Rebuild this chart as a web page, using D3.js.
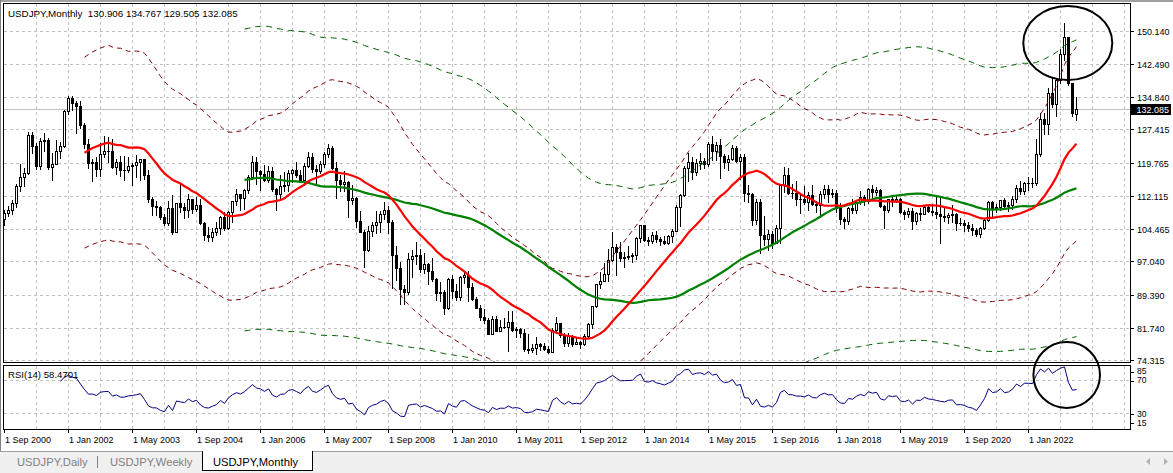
<!DOCTYPE html>
<html><head><meta charset="utf-8">
<script src="https://cdn.jsdelivr.net/npm/d3@7"></script>
<style>
html,body{margin:0;padding:0;background:#fff;overflow:hidden}
svg{display:block;font-family:"Liberation Sans",Arial,sans-serif}
text{white-space:pre}
</style></head><body>
<svg id="c" width="1173" height="473"></svg>
<script>
// ---- DATA (USDJPY monthly, Sep 2000 .. Jan 2023) ----
const opens = [
106.7,108.2,108.9,110.4,
114.4,116.4,117.3,126.1,123.6,119.0,124.7,125.0,118.8,119.4,122.4,123.5,
131.6,134.7,133.4,132.7,128.5,124.0,119.6,119.8,118.4,121.8,122.5,122.5,
118.8,119.9,118.0,118.1,119.0,119.3,119.8,120.5,116.8,111.5,109.8,109.6,
107.2,105.8,109.2,103.9,110.4,109.5,108.8,111.4,109.1,110.1,105.8,103.1,
102.6,103.7,104.6,107.2,104.8,108.5,110.9,112.5,111.6,113.4,116.4,119.8,
117.8,117.2,115.8,117.8,113.8,112.5,114.4,114.7,117.3,118.0,116.9,115.8,
119.0,121.0,118.4,117.8,119.5,121.7,123.2,118.6,115.8,114.8,115.4,111.2,
111.7,106.4,103.8,99.7,104.0,105.5,106.2,107.9,108.8,106.0,98.4,95.5,
90.6,89.9,97.6,98.3,98.6,95.3,96.4,94.7,93.0,89.8,90.0,86.2,
93.0,90.2,88.9,93.4,94.0,91.2,88.4,86.4,84.2,83.5,80.4,83.7,
81.1,82.0,81.8,83.1,81.2,81.5,80.5,76.8,76.6,77.0,78.1,77.6,
76.9,76.2,81.2,82.8,80.0,78.3,79.8,78.1,78.4,77.9,79.8,82.5,
86.7,91.7,92.6,94.2,97.4,100.4,99.1,97.9,98.1,98.2,98.4,102.4,
105.3,102.0,101.8,103.2,102.2,101.8,101.3,102.8,104.1,109.6,112.3,118.6,
119.8,117.5,119.6,120.1,119.4,124.1,122.5,123.9,121.2,119.9,120.6,123.1,
120.2,121.1,112.7,112.6,106.5,110.7,103.2,102.1,103.4,101.3,104.8,114.5,
116.9,112.8,112.7,111.4,111.5,110.8,112.4,110.3,110.0,112.5,113.6,112.5,
112.7,109.2,106.7,106.3,109.3,108.8,110.7,111.9,111.0,113.7,112.9,113.5,
109.7,108.9,111.4,110.9,111.4,108.3,107.9,108.7,106.3,108.1,108.0,109.5,
108.6,108.4,107.9,107.5,107.2,107.8,107.9,105.8,105.9,105.5,104.7,104.3,
103.3,104.7,106.6,110.7,109.3,109.6,111.1,109.7,110.0,111.3,114.0,113.2,
115.1,115.1,115.0,121.7,129.8,128.7,135.7,133.3,138.9,144.7,148.7,138.1,
130.906];
const highs = [
108.8,109.8,111.2,114.8,
119.4,118.5,126.8,126.8,124.2,125.5,126.6,125.5,122.0,125.0,124.4,131.8,
135.2,135.1,134.0,133.9,129.0,125.1,120.5,121.0,124.3,126.0,125.6,125.3,
120.7,121.2,121.3,121.1,119.6,121.6,120.6,120.6,118.0,111.8,110.9,109.8,
107.9,111.0,112.2,110.5,114.9,110.4,112.5,111.5,111.8,111.5,106.2,105.0,
104.6,106.0,107.5,108.3,108.6,111.0,113.7,112.6,113.7,116.8,121.4,121.0,
118.0,119.2,119.0,118.7,114.0,116.8,117.7,118.0,118.3,119.9,118.0,119.6,
122.2,122.0,119.2,120.1,122.3,124.1,123.6,119.8,116.9,117.9,115.5,114.7,
111.9,108.6,104.3,105.1,106.0,108.6,108.6,110.7,109.7,106.5,100.5,96.8,
91.6,98.9,99.7,101.4,99.8,98.9,96.7,97.8,93.3,92.2,90.5,93.1,
93.8,91.9,93.7,94.8,94.9,92.1,88.9,86.9,86.0,83.9,84.4,84.5,
83.6,84.0,85.5,85.5,82.0,81.6,81.4,80.3,77.9,79.5,78.3,78.3,
77.5,81.7,84.2,82.9,80.6,80.6,80.0,79.6,78.8,80.3,82.8,86.8,
91.8,94.5,96.7,99.9,103.7,101.0,101.5,99.2,100.6,99.0,102.6,105.4,
105.4,102.7,103.8,104.1,102.7,102.8,103.1,104.5,110.1,112.5,118.9,121.9,
121.0,120.5,122.0,120.8,124.5,125.9,124.6,125.3,121.7,121.5,123.8,123.6,
121.7,121.7,114.6,112.7,111.5,111.4,107.5,104.3,104.0,105.5,114.8,118.7,
118.6,114.9,115.5,112.2,114.4,112.9,114.5,111.0,113.3,114.5,114.7,113.8,
113.4,110.5,107.3,109.5,111.4,111.0,113.2,112.2,114.0,114.6,114.2,113.8,
110.0,111.5,112.1,112.4,111.7,108.8,109.3,109.3,108.5,109.3,109.7,109.7,
110.3,112.2,111.7,109.4,108.1,109.9,108.2,107.1,106.6,106.1,105.7,104.7,
104.9,106.7,110.9,110.9,110.2,111.2,111.7,110.8,112.1,114.7,115.5,115.2,
116.4,116.3,125.1,131.3,131.3,137.0,139.4,139.1,145.9,151.9,148.8,138.2,
134.767];
const lows = [
105.3,107.5,107.9,109.6,
113.2,114.3,117.1,121.9,118.3,118.4,122.5,118.4,115.8,119.4,120.9,123.4,
130.9,131.9,126.5,127.8,123.1,118.5,115.5,116.6,116.6,121.0,119.9,118.6,
117.2,116.7,115.8,117.7,114.7,116.4,115.8,115.9,110.6,107.8,107.8,106.8,
105.4,105.3,103.4,103.7,108.4,106.9,107.2,108.2,108.7,105.6,102.0,101.8,
101.7,103.0,103.3,104.3,104.4,106.2,110.0,108.8,109.1,112.8,116.0,114.8,
113.4,115.6,115.2,113.3,108.9,111.1,113.2,113.3,115.4,116.4,115.2,114.5,
118.8,117.7,115.1,117.4,118.8,121.1,118.2,111.6,113.2,113.3,107.2,110.3,
104.9,103.8,95.8,99.5,102.8,103.5,103.8,106.8,103.5,90.9,92.8,87.1,
87.1,89.4,93.5,96.5,94.5,94.4,91.8,92.4,88.2,88.0,84.8,86.1,
88.6,88.1,88.1,92.0,88.0,88.1,86.2,83.6,82.9,80.2,80.2,80.9,
81.0,81.6,76.3,81.1,79.6,79.7,76.3,75.9,76.1,75.6,76.6,76.6,
76.0,76.1,80.6,79.7,77.6,77.6,77.6,77.9,77.1,77.8,79.7,81.7,
86.5,90.8,92.5,92.6,97.0,93.8,97.1,95.8,97.6,96.9,97.6,101.6,
101.8,100.8,101.2,101.4,100.8,101.1,101.1,101.5,104.0,105.2,112.0,115.6,
115.9,116.9,118.3,118.5,118.9,120.4,120.4,116.2,118.6,118.1,120.3,119.9,
115.9,110.9,110.7,105.5,105.6,99.0,100.7,99.6,100.1,101.2,101.2,113.1,
112.5,111.6,110.1,108.1,110.2,108.8,110.0,108.3,107.3,111.6,110.8,111.9,
108.3,105.6,104.6,105.7,108.1,108.1,110.3,110.0,110.4,111.4,112.3,109.6,
104.8,108.5,109.7,110.8,108.2,106.8,107.2,104.5,105.7,106.5,107.9,108.4,
107.7,107.0,101.2,106.4,105.9,106.1,104.2,105.3,104.0,104.0,103.2,102.9,
102.6,104.4,106.4,107.5,108.3,108.9,109.1,108.7,109.1,110.8,112.5,112.6,
113.5,114.2,114.7,121.3,126.4,126.4,132.5,130.4,138.0,143.5,137.7,130.6,
129.505];
const closes = [
108.2,108.9,110.4,114.4,
116.4,117.3,126.1,123.6,119.0,124.7,125.0,118.8,119.4,122.4,123.5,131.6,
134.7,133.4,132.7,128.5,124.0,119.6,119.8,118.4,121.8,122.5,122.5,118.8,
119.9,118.0,118.1,119.0,119.3,119.8,120.5,116.8,111.5,109.8,109.6,107.2,
105.8,109.2,103.9,110.4,109.5,108.8,111.4,109.1,110.1,105.8,103.1,102.6,
103.7,104.6,107.2,104.8,108.5,110.9,112.5,111.6,113.4,116.4,119.8,117.8,
117.2,115.8,117.8,113.8,112.5,114.4,114.7,117.3,118.0,116.9,115.8,119.0,
121.0,118.4,117.8,119.5,121.7,123.2,118.6,115.8,114.8,115.4,111.2,111.7,
106.4,103.8,99.7,104.0,105.5,106.2,107.9,108.8,106.0,98.4,95.5,90.6,
89.9,97.6,98.3,98.6,95.3,96.4,94.7,93.0,89.8,90.0,86.2,93.0,
90.2,88.9,93.4,94.0,91.2,88.4,86.4,84.2,83.5,80.4,83.7,81.1,
82.0,81.8,83.1,81.2,81.5,80.5,76.8,76.6,77.0,78.1,77.6,76.9,
76.2,81.2,82.8,80.0,78.3,79.8,78.1,78.4,77.9,79.8,82.5,86.7,
91.7,92.6,94.2,97.4,100.4,99.1,97.9,98.1,98.2,98.4,102.4,105.3,
102.0,101.8,103.2,102.2,101.8,101.3,102.8,104.1,109.6,112.3,118.6,119.8,
117.5,119.6,120.1,119.4,124.1,122.5,123.9,121.2,119.9,120.6,123.1,120.2,
121.1,112.7,112.6,106.5,110.7,103.2,102.1,103.4,101.3,104.8,114.5,116.9,
112.8,112.7,111.4,111.5,110.8,112.4,110.3,110.0,112.5,113.6,112.5,112.7,
109.2,106.7,106.3,109.3,108.8,110.7,111.9,111.0,113.7,112.9,113.5,109.7,
108.9,111.4,110.9,111.4,108.3,107.9,108.7,106.3,108.1,108.0,109.5,108.6,
108.4,107.9,107.5,107.2,107.8,107.9,105.8,105.9,105.5,104.7,104.3,103.3,
104.7,106.6,110.7,109.3,109.6,111.1,109.7,110.0,111.3,114.0,113.2,115.1,
115.1,115.0,121.7,129.8,128.7,135.7,133.3,138.9,144.7,148.7,138.1,131.1,
132.085];
const priceTicks = [150.140,142.490,134.840,127.415,119.765,112.115,104.465,97.040,89.390,81.740,74.315];
const rsiLevels = [85,70,30,15];
const rsiGridLevels = [70,30];
const timeLabels = ["1 Sep 2000","1 Jan 2002","1 May 2003","1 Sep 2004","1 Jan 2006","1 May 2007",
  "1 Sep 2008","1 Jan 2010","1 May 2011","1 Sep 2012","1 Jan 2014","1 May 2015","1 Sep 2016",
  "1 Jan 2018","1 May 2019","1 Sep 2020","1 Jan 2022"];
const headerText = "USDJPY,Monthly  130.906 134.767 129.505 132.085";
const rsiText = "RSI(14) 58.4701";
const lastPrice = 132.085;
const tabNames = ["USDJPY,Daily","USDJPY,Weekly","USDJPY,Monthly"];
const maFast = 21, maSlow = 61, envFast = 0.18, envSlow = 0.30, rsiPeriod = 14;
const monthsPerLabel = 16, monthsPerGrid = 8;

// ---- indicators ----
function sma(a,p){return a.map((v,i)=>{if(i<p-1)return null;let s=0;for(let k=i-p+1;k<=i;k++)s+=a[k];return s/p;});}
function rsi(c,p){const o=c.map(()=>null);let g=0,l=0;for(let i=1;i<=p;i++){const d=c[i]-c[i-1];if(d>0)g+=d;else l-=d;}
  g/=p;l/=p;o[p]=l===0?100:100-100/(1+g/l);
  for(let i=p+1;i<c.length;i++){const d=c[i]-c[i-1];g=(g*(p-1)+(d>0?d:0))/p;l=(l*(p-1)+(d<0?-d:0))/p;o[i]=l===0?100:100-100/(1+g/l);}return o;}
const red = sma(closes,maFast), green = sma(closes,maSlow);
const redUp = red.map(v=>v==null?null:v*(1+envFast)), redDn = red.map(v=>v==null?null:v*(1-envFast));
const grUp = green.map(v=>v==null?null:v*(1+envSlow)), grDn = green.map(v=>v==null?null:v*(1-envSlow));
const rsiVals = rsi(closes,rsiPeriod);

// ---- layout ----
const svg = d3.select("#c");
const PL=3.5, PR=1130.5, MT=3.5, MB=362.5, RT=365.5, RB=429.5;
const x = d3.scaleLinear().domain([0,281.5]).range([4,1130]);
const y = d3.scaleLinear().domain([74.315,150.14]).range([360,30.7]);
const yr = d3.scaleLinear().domain([30,70]).range([413.3,380]);
const FONT = 9;

svg.append("rect").attr("x",0).attr("y",0).attr("width",1173).attr("height",473).attr("fill","#fff");
svg.append("rect").attr("x",0).attr("y",0).attr("width",1173).attr("height",2).attr("fill","#a0a0a0");

const defs = svg.append("defs");
defs.append("clipPath").attr("id","cm").append("rect").attr("x",4).attr("y",4).attr("width",1126).attr("height",358);
defs.append("clipPath").attr("id","cr").append("rect").attr("x",4).attr("y",366).attr("width",1126).attr("height",63);

const main = svg.append("g").attr("clip-path","url(#cm)");
const rp = svg.append("g").attr("clip-path","url(#cr)");

// grid
const gridX = d3.range(monthsPerGrid, 282, monthsPerGrid).map(i=>Math.round(x(i))+0.5);
[main, rp].forEach((g,k)=>{
  g.selectAll(null).data(gridX).enter().append("line")
   .attr("x1",d=>d).attr("x2",d=>d).attr("y1",k?366:4).attr("y2",k?429:362)
   .attr("stroke","#c0c0c0").attr("stroke-dasharray","3,3");
});
main.selectAll(null).data(priceTicks).enter().append("line")
  .attr("x1",4).attr("x2",1130).attr("y1",d=>Math.round(y(d))+0.5).attr("y2",d=>Math.round(y(d))+0.5)
  .attr("stroke","#c0c0c0").attr("stroke-dasharray","3,3");
rp.selectAll(null).data(rsiGridLevels).enter().append("line")
  .attr("x1",4).attr("x2",1130).attr("y1",d=>Math.round(yr(d))+0.5).attr("y2",d=>Math.round(yr(d))+0.5)
  .attr("stroke","#c0c0c0").attr("stroke-dasharray","3,3");

// last price line
const yLast = Math.round(y(lastPrice))+0.5;
main.append("line").attr("x1",4).attr("x2",1130).attr("y1",yLast).attr("y2",yLast).attr("stroke","#c0c0c0");

// candles
const idx = d3.range(closes.length);
const cg = main.append("g");
idx.forEach(i=>{
  const cx = Math.round(x(i));
  cg.append("line").attr("x1",cx+0.5).attr("x2",cx+0.5)
    .attr("y1",Math.round(y(highs[i]))).attr("y2",Math.round(y(lows[i]))+1).attr("stroke","#000");
  const t = Math.round(y(Math.max(opens[i],closes[i]))), b = Math.round(y(Math.min(opens[i],closes[i])));
  const bull = closes[i] >= opens[i];
  if (b - t < 1) {
    cg.append("line").attr("x1",cx-1).attr("x2",cx+2).attr("y1",t+0.5).attr("y2",t+0.5).attr("stroke","#000");
  } else {
    cg.append("rect").attr("x",cx-0.5).attr("y",t+0.5).attr("width",2).attr("height",b-t)
      .attr("fill",bull?"#fff":"#000").attr("stroke","#000");
  }
});

// indicator lines
const line = (sc)=>d3.line().defined(d=>d!=null).x((d,i)=>Math.round(x(i))+0.5).y(d=>sc(d));
function path(g,data,sc,color,w,dash){const p=g.append("path").attr("d",line(sc)(data)).attr("fill","none")
  .attr("stroke",color).attr("stroke-width",w);if(dash)p.attr("stroke-dasharray",dash);return p;}
path(main,redUp,y,"#800000",1,"5,4");
path(main,redDn,y,"#800000",1,"5,4");
path(main,grUp,y,"#006400",1,"6,5");
path(main,grDn,y,"#006400",1,"6,5");
path(main,green,y,"#008000",2.2);
path(main,red,y,"#ff0000",2.2);
path(rp,rsiVals,yr,"#000080",1);

// frames
svg.append("rect").attr("x",PL).attr("y",MT).attr("width",PR-PL).attr("height",MB-MT).attr("fill","none").attr("stroke","#000");
svg.append("rect").attr("x",PL).attr("y",RT).attr("width",PR-PL).attr("height",RB-RT).attr("fill","none").attr("stroke","#000");
svg.append("line").attr("x1",0.5).attr("x2",0.5).attr("y1",0).attr("y2",451).attr("stroke","#808080");

// header texts
svg.append("text").attr("x",8).attr("y",13.5).attr("dy","0.35em").attr("font-size",9.8).attr("fill","#000").text(headerText);
svg.append("text").attr("x",8).attr("y",375).attr("dy","0.35em").attr("font-size",9.6).attr("fill","#000").text(rsiText);

// price axis
const pa = svg.append("g");
priceTicks.forEach(v=>{
  const yy = Math.round(y(v))+0.5;
  pa.append("line").attr("x1",1131).attr("x2",1134).attr("y1",yy).attr("y2",yy).attr("stroke","#000");
  pa.append("text").attr("x",1137).attr("y",yy).attr("dy","0.35em").attr("font-size",FONT).text(v.toFixed(3));
});
pa.append("rect").attr("x",1131).attr("y",yLast-5.5).attr("width",40).attr("height",11).attr("fill","#000");
pa.append("text").attr("x",1136.5).attr("y",yLast).attr("dy","0.35em").attr("font-size",FONT).attr("fill","#fff").text(lastPrice.toFixed(3));

// rsi axis (labels kept inside the pane, 9px apart)
const rsiLabelY = v => v > 50 ? Math.max(371.5, yr(v) + 0.5) : Math.min(423, yr(v) + 0.5);
rsiLevels.forEach(v=>{
  const yy = rsiLabelY(v);
  svg.append("line").attr("x1",1131).attr("x2",1134).attr("y1",Math.round(yy)+0.5).attr("y2",Math.round(yy)+0.5).attr("stroke","#000");
  svg.append("text").attr("x",1137).attr("y",yy).attr("dy","0.33em").attr("font-size",8.6).text(v);
});

// time axis
timeLabels.forEach((t,k)=>{
  const xx = Math.round(x(k*monthsPerLabel))+0.5;
  svg.append("line").attr("x1",xx).attr("x2",xx).attr("y1",430).attr("y2",433).attr("stroke","#000");
  svg.append("text").attr("x",xx+0.5).attr("y",439.5).attr("dy","0.35em").attr("font-size",FONT).text(t);
});

// annotation ellipses
svg.append("ellipse").attr("cx",1067.8).attr("cy",43).attr("rx",44.5).attr("ry",37).attr("fill","none").attr("stroke","#000").attr("stroke-width",2);
svg.append("ellipse").attr("cx",1066.7).attr("cy",375).attr("rx",33.3).attr("ry",33).attr("fill","none").attr("stroke","#000").attr("stroke-width",2);

// tab bar
svg.append("rect").attr("x",0).attr("y",451).attr("width",1173).attr("height",22).attr("fill","#f0f0f0");
svg.append("line").attr("x1",0).attr("x2",1173).attr("y1",451.5).attr("y2",451.5).attr("stroke","#a0a0a0");
svg.append("rect").attr("x",202.5).attr("y",451.5).attr("width",110).attr("height",19).attr("fill","#fff").attr("stroke","#000");
svg.append("rect").attr("x",203).attr("y",450).attr("width",109).attr("height",2).attr("fill","#fff");
const tabX = [17, 110, 213];
tabNames.forEach((t,k)=>{
  svg.append("text").attr("x",tabX[k]).attr("y",462).attr("dy","0.35em").attr("font-size",11.2)
    .attr("fill",k===2?"#000":"#808080").text(t);
});
svg.append("line").attr("x1",97.5).attr("x2",97.5).attr("y1",456).attr("y2",468).attr("stroke","#808080");
svg.append("path").attr("d","M1150,458 L1146,461.5 L1150,465 Z").attr("fill","#b0b0b0");
svg.append("path").attr("d","M1164,458 L1168,461.5 L1164,465 Z").attr("fill","#b0b0b0");
</script>
</body></html>
